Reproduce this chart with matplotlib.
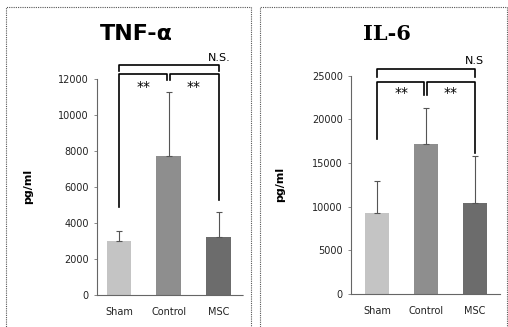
import numpy as np
import matplotlib
matplotlib.use("Agg")
import matplotlib.pyplot as plt
from matplotlib.patches import Rectangle

groups = ["Sham", "Control", "MSC"]
colors = ["#c4c4c4", "#8e8e8e", "#6c6c6c"]

tnf_mean = [3000, 7700, 3200]
tnf_err = [550, 3600, 1400]
il6_mean = [9300, 17200, 10400]
il6_err = [3700, 4100, 5400]

plt.rcParams["font.family"] = ["DejaVu Sans"]

fig = plt.figure(figsize=(5.08, 3.27), dpi=100)

# dotted panel frames
for x0, x1 in [(0.012, 0.494), (0.512, 0.998)]:
    fig.patches.append(Rectangle((x0, -0.05), x1 - x0, 0.979 + 0.05,
                                 transform=fig.transFigure, fill=False,
                                 ls=(0, (1, 1)), lw=0.8, ec="#555555"))


def panel(rect, means, errs, ymax, step, xlim, title, tfont, tsize, tx, br):
    ax = fig.add_axes(rect)
    x = np.arange(len(groups))
    ax.bar(x, means, width=0.5, color=colors, edgecolor="none")
    ax.errorbar(x, means, yerr=[np.zeros(3), errs], fmt="none",
                ecolor="#555555", elinewidth=0.8, capsize=2.5, capthick=0.8)
    ax.set_xlim(*xlim)
    ax.set_ylim(0, ymax)
    ax.set_yticks(np.arange(0, ymax + 1, step))
    ax.set_xticks(x)
    ax.set_xticklabels(groups)
    ax.tick_params(axis="both", labelsize=7, length=2, width=0.6,
                   color="#777777", labelcolor="#222222", pad=4)
    ax.tick_params(axis="x", length=0, pad=9)
    for s in ["top", "right"]:
        ax.spines[s].set_visible(False)
    for s in ["left", "bottom"]:
        ax.spines[s].set_linestyle((0, (1, 1)))
        ax.spines[s].set_color("#666666")
        ax.spines[s].set_linewidth(0.8)
    ax.set_ylabel("pg/ml", fontsize=8, fontweight="bold")
    ax.yaxis.set_label_coords(-0.44, 0.5)
    fig.text(tx, 0.896, title, ha="center", va="center", fontsize=tsize,
             fontweight="bold", family=tfont)

    # significance brackets
    top, tick, mid, sham_y, ctl_y, msc_y, ns, star_y, nstxt = br
    kw = dict(color="black", lw=1.2, clip_on=False)
    ax.plot([0, 0, 2, 2], [tick, top, top, tick], **kw)
    ax.plot([0, 0, 0.96, 0.96], [sham_y, mid, mid, ctl_y], **kw)
    ax.plot([1.03, 1.03, 2, 2], [ctl_y, mid, mid, msc_y], **kw)
    for sx in [0.5, 1.5]:
        ax.text(sx, star_y, "**", ha="center", va="center", fontsize=10,
                clip_on=False)
    ax.text(2.0, ns, nstxt, ha="center", va="center", fontsize=8)
    return ax


panel([0.191, 0.099, 0.287, 0.659], tnf_mean, tnf_err, 12000, 2000,
      (-0.44, 2.48), "TNF-α", "DejaVu Sans", 16, 136 / 508,
      (12780, 12450, 12280, 4870, 11940, 5260, 13150, 11550, "N.S."))
panel([0.691, 0.101, 0.293, 0.667], il6_mean, il6_err, 25000, 5000,
      (-0.53, 2.51), "IL-6", "DejaVu Serif", 15, 387 / 508,
      (25800, 24900, 24300, 17780, 22800, 16170, 26700, 23000, "N.S"))

fig.savefig("out.png", dpi=100)
